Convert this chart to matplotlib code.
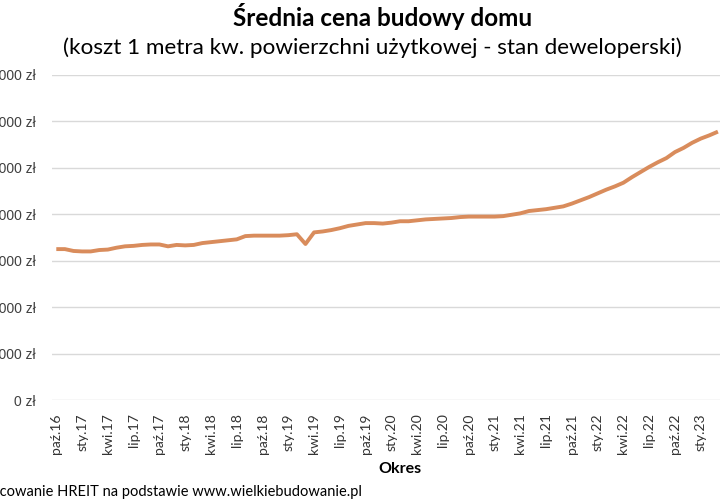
import matplotlib.pyplot as plt
from matplotlib.ticker import FuncFormatter

# average cost of 1 m2 (stan deweloperski), monthly from paz.16, in zl
prices = [3250, 3250, 3210, 3200, 3200, 3230, 3240, 3280, 3310, 3320,
          3340, 3350, 3350, 3310, 3340, 3330, 3340, 3380, 3400, 3420,
          3440, 3460, 3530, 3540, 3540, 3540, 3540, 3550, 3570, 3360,
          3610, 3630, 3660, 3700, 3750, 3780, 3810, 3810, 3800, 3820,
          3850, 3850, 3870, 3890, 3900, 3910, 3920, 3940, 3950, 3950,
          3950, 3950, 3960, 3990, 4020, 4070, 4090, 4110, 4140, 4170,
          4230, 4300, 4370, 4450, 4530, 4600, 4680, 4800, 4910, 5020,
          5120, 5210, 5340, 5430, 5540, 5630, 5700, 5780]

tick_labels = ['paź.16', 'sty.17', 'kwi.17', 'lip.17', 'paź.17', 'sty.18',
               'kwi.18', 'lip.18', 'paź.18', 'sty.19', 'kwi.19', 'lip.19',
               'paź.19', 'sty.20', 'kwi.20', 'lip.20', 'paź.20', 'sty.21',
               'kwi.21', 'lip.21', 'paź.21', 'sty.22', 'kwi.22', 'lip.22',
               'paź.22', 'sty.23']

title = 'Średnia cena budowy domu'
subtitle = '(koszt 1 metra kw. powierzchni użytkowej - stan deweloperski)'
source = 'Źródło: Opracowanie HREIT na podstawie www.wielkiebudowanie.pl'

W, H = 720, 500
fig = plt.figure(figsize=(W / 100, H / 100), dpi=100)
ax = fig.add_axes([52 / W, 100 / H, 668.5 / W, 325 / H])

ax.plot(range(len(prices)), prices, color='#D98C5C', lw=2.8,
        solid_joinstyle='round', solid_capstyle='butt')

ax.set_xlim(-0.5, 77.3)
ax.set_ylim(0, 7000)
ax.set_yticks(range(0, 7001, 1000))
ax.yaxis.set_major_formatter(
    FuncFormatter(lambda v, p: f"{int(v):,} zł".replace(",", " ")))
ax.set_xticks(range(0, 3 * len(tick_labels), 3))
ax.set_xticklabels(tick_labels, rotation=90, family='Lato', fontsize=10)
for lab in ax.get_yticklabels():
    lab.set_family('Liberation Sans')
    lab.set_fontsize(10)
    lab.set_color('#404040')
for lab in ax.get_xticklabels():
    lab.set_color('#333333')

ax.grid(axis='y', color='#D9D9D9', lw=1)
ax.set_axisbelow(True)
for s in ax.spines.values():
    s.set_visible(False)
ax.tick_params(length=0)
ax.tick_params(axis='y', pad=11.5)
ax.tick_params(axis='x', pad=9.5)

fig.text(383 / W, 1 - 17 / H, title, ha='center', va='center',
         family='Lato', fontweight='bold', fontsize=17.5)
fig.text(372 / W, 1 - 48 / H, subtitle, ha='center', va='center',
         family='Lato', fontsize=16.2)
fig.text(400 / W, 1 - 469 / H, 'Okres', ha='center', va='center',
         family='Lato', fontweight='bold', fontsize=11.5)
fig.text(362 / W, 1 - 490 / H, source, ha='right', va='center',
         family='Lato', fontsize=10.5)

fig.savefig('out.png', dpi=100)
